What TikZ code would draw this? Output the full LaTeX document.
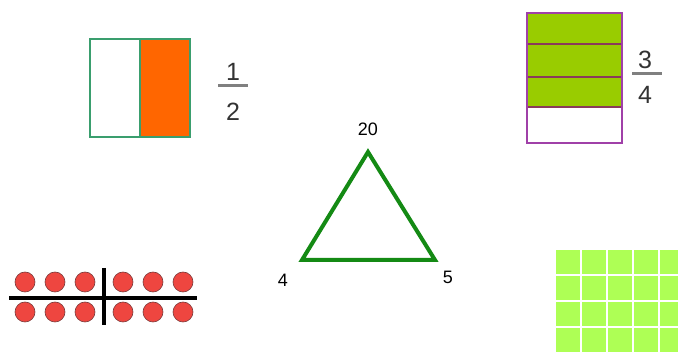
\documentclass[tikz,border=0pt]{standalone}
\usepackage{fontspec}
\setmainfont{Liberation Sans}
\definecolor{boxgreen}{HTML}{3A9E6E}
\definecolor{halforange}{HTML}{FF6600}
\definecolor{qgreen}{HTML}{99CC00}
\definecolor{qpurple}{HTML}{A040A8}
\definecolor{qdiv}{HTML}{8A3A5A}
\definecolor{tgreen}{HTML}{148A14}
\definecolor{dotred}{HTML}{EE4640}
\definecolor{dotrim}{HTML}{7A3A3A}
\definecolor{gridgreen}{HTML}{AEFF55}
\definecolor{fracgray}{HTML}{333333}
\begin{document}
\begin{tikzpicture}[x=1pt,y=-1pt,
  fracnum/.style={font=\fontsize{25}{25}\selectfont, text=fracgray, inner sep=0pt},
  fracbar/.style={draw=gray, line width=3pt},
  lab/.style={font=\fontsize{18}{18}\selectfont, text=black, inner sep=0pt},
  dot/.style={circle, fill=dotred, draw=dotrim, line width=0.6pt, minimum size=20pt, inner sep=0pt},
  cell/.style={fill=gridgreen},
  bar/.style={line width=4pt, black}]
\useasboundingbox (0,0) rectangle (678,352);
% half box
\fill[halforange] (140,39) rectangle (190,137);
\draw[boxgreen, line width=1.6pt] (90,39) rectangle (190,137);
\draw[boxgreen, line width=1.6pt] (140,39) -- (140,137);
\node[fracnum] (n1) at (233,72) {1};
\draw[fracbar] (218,86) -- (248,86);
\node[fracnum] (d2) at (233,112) {2};
% three quarters box
\fill[qgreen] (527,13) rectangle (622,107);
\draw[qdiv, line width=1.5pt] (527,44) -- (622,44) (527,77) -- (622,77) (527,107) -- (622,107);
\draw[qpurple, line width=1.5pt] (527,13) rectangle (622,143);
\node[fracnum] (n3) at (645,60) {3};
\draw[fracbar] (632,74) -- (662,74);
\node[fracnum] (d4) at (645,95) {4};
% triangle
\coordinate (ta) at (368,152);
\coordinate (tl) at (302,260);
\coordinate (tr) at (435,260);
\draw[tgreen, line width=4pt, line join=miter] (ta) -- (tl) -- (tr) -- cycle;
\node[lab] (l20) at (368,129) {20};
\node[lab] (l4) at (283,280) {4};
\node[lab] (l5) at (448,277) {5};
% dots
\foreach \x [count=\i] in {25,55,85,123,153,183}{
  \node[dot] (da\i) at (\x,282) {};
  \node[dot] (db\i) at (\x,312) {};
}
\draw[bar] (9,298) -- (197,298);
\draw[bar] (104,268) -- (104,325);
% grid
\foreach \c in {0,...,4}{
  \foreach \r in {0,...,3}{
    \fill[cell] ({556+26*\c},{250+26*\r}) rectangle ++(24,24);
  }
}
\end{tikzpicture}
\end{document}
